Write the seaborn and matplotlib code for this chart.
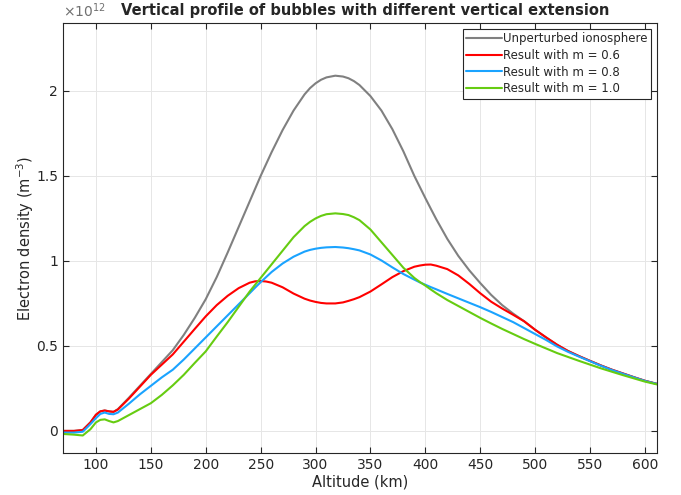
import numpy as np
import pandas as pd
import matplotlib
matplotlib.use("Agg")
import matplotlib.pyplot as plt
import seaborn as sns

# Altitude grid (km)
alt = [70, 80, 88, 95, 100, 104, 108, 112, 116, 120,
       130, 140, 150, 160, 170, 180, 190, 200, 210, 220, 230, 240,
       245, 250, 255, 260,
       270, 280, 290,
       295, 300, 305, 310, 318,
       325, 330, 335, 340,
       350, 360, 370, 380, 390,
       395, 400, 405, 410,
       420, 430, 440, 450, 460, 470, 480, 490, 500,
       510, 520, 530, 540, 550, 560, 570, 580, 590, 600,
       612]

# Electron density, units of 1e12 m^-3
unperturbed = [0.0, 0.0, 0.005, 0.05, 0.095, 0.115, 0.12, 0.115, 0.112, 0.128,
               0.195, 0.265, 0.335, 0.405, 0.475, 0.565, 0.665, 0.775, 0.905, 1.05, 1.20, 1.35,
               1.425, 1.50, 1.57, 1.64,
               1.77, 1.885, 1.98,
               2.017, 2.045, 2.066, 2.08, 2.09,
               2.085, 2.075, 2.058, 2.035,
               1.97, 1.885, 1.775, 1.645, 1.50,
               1.435, 1.37, 1.307, 1.245,
               1.13, 1.03, 0.945, 0.87, 0.80, 0.74, 0.69, 0.645, 0.595,
               0.55, 0.507, 0.47, 0.44, 0.412, 0.385, 0.36, 0.338, 0.316, 0.295,
               0.275]
m06 = [0.0, 0.0, 0.005, 0.05, 0.095, 0.115, 0.12, 0.115, 0.112, 0.126,
       0.19, 0.26, 0.33, 0.39, 0.45, 0.525, 0.60, 0.674, 0.74, 0.795, 0.84, 0.872,
       0.88, 0.882, 0.879, 0.872,
       0.845, 0.808, 0.778,
       0.767, 0.759, 0.753, 0.75, 0.75,
       0.756, 0.765, 0.775, 0.787,
       0.82, 0.862, 0.905, 0.94, 0.966,
       0.973, 0.978, 0.979, 0.972,
       0.952, 0.915, 0.865, 0.81, 0.76, 0.72, 0.683, 0.645, 0.595,
       0.55, 0.507, 0.47, 0.44, 0.412, 0.385, 0.36, 0.338, 0.316, 0.295,
       0.275]
m08 = [-0.01, -0.01, -0.005, 0.04, 0.075, 0.10, 0.108, 0.10, 0.098, 0.108,
       0.16, 0.215, 0.265, 0.315, 0.36, 0.42, 0.485, 0.55, 0.615, 0.68, 0.745, 0.81,
       0.843, 0.875, 0.905, 0.935,
       0.985, 1.025, 1.055,
       1.065, 1.072, 1.077, 1.08, 1.082,
       1.079, 1.075, 1.069, 1.062,
       1.038, 1.003, 0.962, 0.923, 0.89,
       0.874, 0.86, 0.846, 0.833,
       0.806, 0.78, 0.754, 0.728, 0.70, 0.67, 0.64, 0.605, 0.57,
       0.535, 0.497, 0.465, 0.437, 0.41, 0.383, 0.358, 0.336, 0.315, 0.294,
       0.275]
m10 = [-0.018, -0.022, -0.027, 0.01, 0.05, 0.065, 0.068, 0.058, 0.05, 0.058,
       0.093, 0.128, 0.163, 0.212, 0.268, 0.33, 0.40, 0.468, 0.555, 0.64, 0.73, 0.82,
       0.86, 0.90, 0.94, 0.98,
       1.06, 1.14, 1.205,
       1.23, 1.25, 1.265, 1.275, 1.28,
       1.276, 1.27, 1.257, 1.24,
       1.185, 1.11, 1.035, 0.96, 0.90,
       0.876, 0.855, 0.832, 0.81,
       0.77, 0.735, 0.70, 0.665, 0.632, 0.60, 0.57, 0.54, 0.512,
       0.485, 0.458, 0.435, 0.412, 0.39, 0.368, 0.348, 0.328, 0.309, 0.29,
       0.272]

labels = ["Unperturbed ionosphere", "Result with m = 0.6",
          "Result with m = 0.8", "Result with m = 1.0"]
colors = ["#808080", "#ff0000", "#1aa3ff", "#66cc11"]

series = [unperturbed, m06, m08, m10]
df = pd.concat([pd.DataFrame({"alt": alt, "ne": s, "case": lab})
                for s, lab in zip(series, labels)], ignore_index=True)

sns.set_style("ticks")
plt.rcParams['font.family'] = ['DejaVu Sans']

fig = plt.figure(figsize=(6.81, 4.95), dpi=100)
ax = fig.add_axes([63/681, 1-453/495, (657-63)/681, (453-23)/495])

sns.lineplot(data=df, x="alt", y="ne", hue="case", hue_order=labels,
             palette=dict(zip(labels, colors)), linewidth=1.5, errorbar=None,
             sort=True, ax=ax)
for ln in ax.get_lines():
    ln.set_solid_joinstyle("round")

ax.set_xlim(70, 611)
ax.set_ylim(-0.13, 2.4)
ax.set_xticks([100, 150, 200, 250, 300, 350, 400, 450, 500, 550, 600])
ax.set_yticks([0, 0.5, 1, 1.5, 2])
ax.set_yticklabels(["0", "0.5", "1", "1.5", "2"])
ax.grid(True, color="#e6e6e6", linewidth=0.7)
ax.set_axisbelow(True)
for sp in ax.spines.values():
    sp.set_visible(True)
    sp.set_color("#262626")
    sp.set_linewidth(0.8)
ax.tick_params(direction="in", top=True, right=True, length=4, width=0.8,
               color="#262626", labelsize=10, labelcolor="#262626")

ax.set_xlabel("Altitude (km)", fontsize=10.5, color="#262626", labelpad=2)
ax.set_ylabel(r"Electron density (m$^{-3}$)", fontsize=10.5, color="#262626", labelpad=0)
ax.set_title("Vertical profile of bubbles with different vertical extension",
             fontsize=10.5, fontweight="bold", pad=6, x=0.508)
ax.text(0.0, 1.008, r"$\times10^{12}$", transform=ax.transAxes, fontsize=10,
        color="#707070", ha="left", va="bottom")

leg = ax.legend(loc="upper right", fontsize=8.5, frameon=True, fancybox=False,
                edgecolor="#262626", framealpha=1, handlelength=3.0,
                handletextpad=0.1, borderaxespad=0.5, borderpad=0.3,
                labelspacing=0.3, title=None)
leg.get_frame().set_linewidth(0.8)

fig.savefig("out.png", dpi=100)
